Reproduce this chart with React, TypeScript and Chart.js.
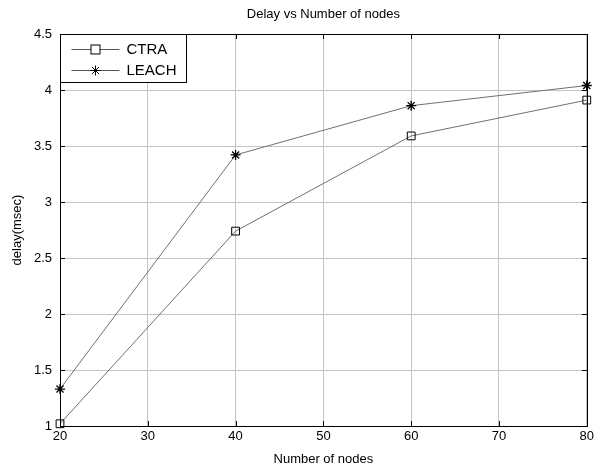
import React, { useEffect, useRef } from "react";
import { Chart, registerables } from "chart.js";

Chart.register(...registerables);

const nodes = [20, 40, 60, 80];
const ctraDelay = [1.02, 2.74, 3.59, 3.91];
const leachDelay = [1.33, 3.42, 3.86, 4.04];
const xTicks = [20, 30, 40, 50, 60, 70, 80];
const yTicks = [1, 1.5, 2, 2.5, 3, 3.5, 4, 4.5];
const titleText = "Delay vs Number of nodes";
const xTitle = "Number of nodes";
const yTitle = "delay(msec)";
const seriesNames = ["CTRA", "LEACH"];

const FONT = "Arial, 'Liberation Sans', sans-serif";

const framePlugin = {
  id: "matlabFrame",
  afterDraw(chart: any) {
    const { ctx, chartArea } = chart;
    const { left, right, top, bottom } = chartArea;
    const xs = chart.scales.x;
    const ys = chart.scales.y;
    ctx.save();
    ctx.strokeStyle = "#000";
    ctx.lineWidth = 1;
    ctx.strokeRect(Math.round(left) + 0.5, Math.round(top) + 0.5, Math.round(right - left), Math.round(bottom - top));
    const tl = 5;
    ctx.beginPath();
    xTicks.forEach((v) => {
      const px = Math.round(xs.getPixelForValue(v)) + 0.5;
      ctx.moveTo(px, bottom);
      ctx.lineTo(px, bottom - tl);
      ctx.moveTo(px, top);
      ctx.lineTo(px, top + tl);
    });
    yTicks.forEach((v) => {
      const py = Math.round(ys.getPixelForValue(v)) + 0.5;
      ctx.moveTo(left, py);
      ctx.lineTo(left + tl, py);
      ctx.moveTo(right, py);
      ctx.lineTo(right - tl, py);
    });
    ctx.stroke();

    ctx.fillStyle = "#000";
    ctx.font = `13px ${FONT}`;
    ctx.textAlign = "center";
    ctx.textBaseline = "middle";
    const cx = (left + right) / 2;
    ctx.fillText(titleText, cx, 14);
    ctx.fillText(xTitle, cx, 459);
    ctx.save();
    ctx.translate(17, (top + bottom) / 2);
    ctx.rotate(-Math.PI / 2);
    ctx.fillText(yTitle, 0, 0);
    ctx.restore();

    const lx = Math.round(left) + 0.5;
    const ly = Math.round(top) + 0.5;
    const lw = 126;
    const lh = 48;
    ctx.fillStyle = "#fff";
    ctx.fillRect(lx, ly, lw, lh);
    ctx.strokeStyle = "#000";
    ctx.strokeRect(lx, ly, lw, lh);
    const rows = [ly + 14, ly + 35];
    rows.forEach((ry, i) => {
      ctx.strokeStyle = "#555";
      ctx.beginPath();
      ctx.moveTo(lx + 11, Math.round(ry) + 0.5);
      ctx.lineTo(lx + 59, Math.round(ry) + 0.5);
      ctx.stroke();
      ctx.strokeStyle = "#000";
      const mx = lx + 35;
      const my = Math.round(ry) + 0.5;
      if (i === 0) {
        ctx.fillStyle = "#fff";
        ctx.fillRect(mx - 4.5, my - 4.5, 9, 9);
        ctx.strokeRect(mx - 4.5, my - 4.5, 9, 9);
      } else {
        ctx.beginPath();
        const r = 5;
        for (let k = 0; k < 4; k++) {
          const a = (k * Math.PI) / 4;
          ctx.moveTo(mx - r * Math.cos(a), my - r * Math.sin(a));
          ctx.lineTo(mx + r * Math.cos(a), my + r * Math.sin(a));
        }
        ctx.stroke();
      }
      ctx.fillStyle = "#000";
      ctx.font = `15px ${FONT}`;
      ctx.textAlign = "left";
      ctx.textBaseline = "middle";
      ctx.fillText(seriesNames[i], lx + 66, ry + 1);
    });
    ctx.restore();
  },
};

export default function App() {
  const ref = useRef<HTMLCanvasElement | null>(null);
  useEffect(() => {
    if (!ref.current) return;
    const chart = new Chart(ref.current, {
      type: "line",
      data: {
        datasets: [
          {
            label: seriesNames[0],
            data: nodes.map((x, i) => ({ x, y: ctraDelay[i] })),
            borderColor: "#707070",
            borderWidth: 1,
            pointStyle: "rect",
            pointRadius: 5.5,
            pointBorderColor: "#000",
            pointBackgroundColor: "rgba(0,0,0,0)",
            pointBorderWidth: 1,
            tension: 0,
            clip: false,
          },
          {
            label: seriesNames[1],
            data: nodes.map((x, i) => ({ x, y: leachDelay[i] })),
            borderColor: "#707070",
            borderWidth: 1,
            pointStyle: "star",
            pointRadius: 5,
            pointBorderColor: "#000",
            pointBackgroundColor: "#000",
            pointBorderWidth: 1.3,
            tension: 0,
            clip: false,
          },
        ],
      },
      options: {
        animation: false,
        responsive: false,
        maintainAspectRatio: false,
        layout: { padding: { top: 34, right: 10, left: 0, bottom: 0 } },
        plugins: {
          legend: { display: false },
          title: { display: false },
          tooltip: { enabled: false },
        },
        scales: {
          x: {
            type: "linear",
            min: 20,
            max: 80,
            afterBuildTicks: (s: any) => {
              s.ticks = xTicks.map((v) => ({ value: v }));
            },
            afterFit: (s: any) => {
              s.height = 43;
            },
            ticks: {
              color: "#000",
              font: { family: FONT, size: 13 },
              padding: 3,
              maxRotation: 0,
              autoSkip: false,
            },
            grid: { color: "#c4c4c4", drawTicks: false, lineWidth: 1 },
            border: { display: false },
          },
          y: {
            type: "linear",
            min: 1,
            max: 4.5,
            afterBuildTicks: (s: any) => {
              s.ticks = yTicks.map((v) => ({ value: v }));
            },
            afterFit: (s: any) => {
              s.width = 60;
            },
            ticks: {
              color: "#000",
              font: { family: FONT, size: 13 },
              padding: 8,
              autoSkip: false,
              callback: (v: any) => String(v),
            },
            grid: { color: "#c4c4c4", drawTicks: false, lineWidth: 1 },
            border: { display: false },
          },
        },
      },
      plugins: [framePlugin],
    });
    return () => chart.destroy();
  }, []);
  return (
    <div style={{ position: "fixed", left: 0, top: 0, width: 597, height: 469, background: "#fff" }}>
      <canvas ref={ref} width={597} height={469} style={{ width: 597, height: 469, display: "block" }} />
    </div>
  );
}
